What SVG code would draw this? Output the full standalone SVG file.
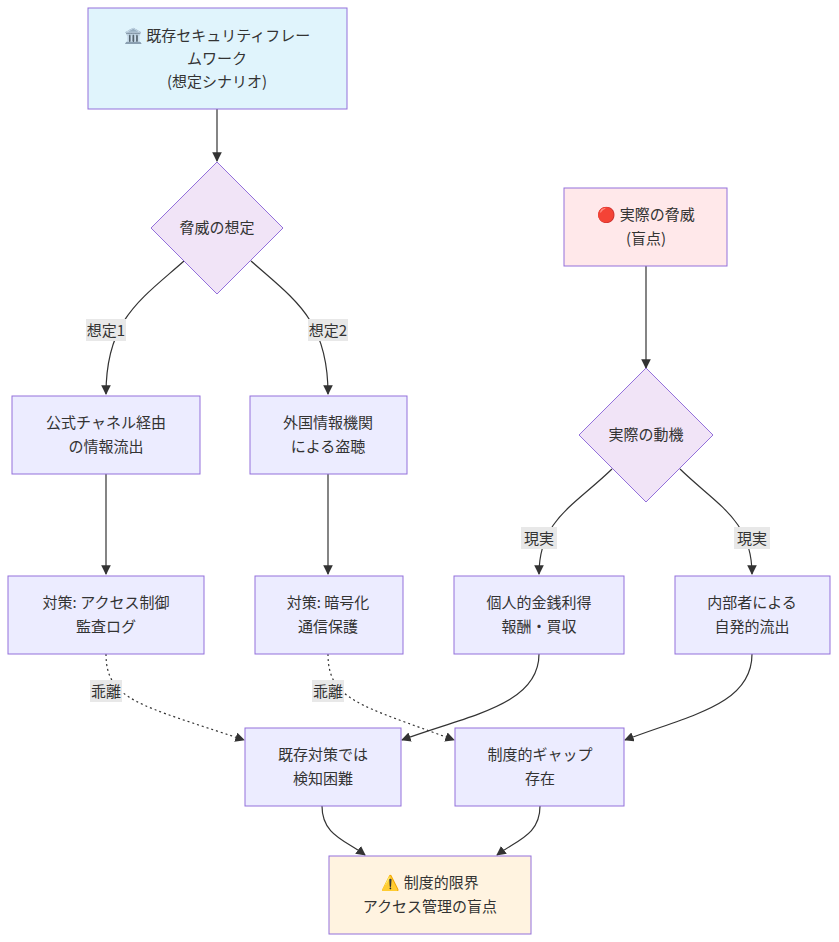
<svg xmlns="http://www.w3.org/2000/svg" width="839" height="942" viewBox="0 0 839 942">
<defs>
<style>
text{font-family:"Noto Sans CJK JP","Liberation Sans",sans-serif;font-size:15px;fill:#333;text-anchor:middle}
.n{fill:#ececff;stroke:#9370db;stroke-width:1}
.d{fill:#f1e4f7;stroke:#9370db;stroke-width:1}
.e{fill:none;stroke:#333;stroke-width:1.2}
.dot{stroke-dasharray:2 3}
.lb{fill:#e8e8e8}
</style>
<marker id="ah" viewBox="0 0 10 10" refX="9" refY="5" markerWidth="8" markerHeight="8" orient="auto"><path d="M0,0L10,5L0,10z" fill="#333"/></marker>
</defs>
<g id="connectors">
<path class="e" marker-end="url(#ah)" d="M217,109V161"/>
<path class="e" marker-end="url(#ah)" d="M184,261C140,300 106,320 106,394"/>
<path class="e" marker-end="url(#ah)" d="M251,261C295,300 328,320 328,394"/>
<path class="e" marker-end="url(#ah)" d="M106,474V574"/>
<path class="e" marker-end="url(#ah)" d="M328,474V574"/>
<path class="e" marker-end="url(#ah)" d="M646,266V368"/>
<path class="e" marker-end="url(#ah)" d="M612,469C575,505 539,520 539,574"/>
<path class="e" marker-end="url(#ah)" d="M680,469C717,505 752,520 752,574"/>
<path class="e dot" marker-end="url(#ah)" d="M106,654C106,700 140,705 244,740"/>
<path class="e dot" marker-end="url(#ah)" d="M328,654C328,700 360,705 454,740"/>
<path class="e" marker-end="url(#ah)" d="M539,654C539,705 470,715 402,740"/>
<path class="e" marker-end="url(#ah)" d="M752,654C752,705 690,715 625,740"/>
<path class="e" marker-end="url(#ah)" d="M322,806C322,835 345,840 365,855"/>
<path class="e" marker-end="url(#ah)" d="M540,806C540,835 517,840 497,855"/>
<rect class="lb" x="86" y="319" width="40" height="22"/><text x="106" y="336">想定1</text>
<rect class="lb" x="308" y="319" width="40" height="22"/><text x="328" y="336">想定2</text>
<rect class="lb" x="521" y="527" width="36" height="22"/><text x="539" y="544">現実</text>
<rect class="lb" x="734" y="527" width="36" height="22"/><text x="752" y="544">現実</text>
<rect class="lb" x="90" y="680" width="32" height="22"/><text x="106" y="697">乖離</text>
<rect class="lb" x="312" y="680" width="32" height="22"/><text x="328" y="697">乖離</text>
</g>
<g id="A"><rect x="88" y="8" width="259" height="101" fill="#e0f4fc" stroke="#9370db"/><text x="217" y="41">🏛️ 既存セキュリティフレー</text><text x="217" y="64">ムワーク</text><text x="217" y="87">(想定シナリオ)</text></g>
<g id="B"><path class="d" d="M217,162L283,228L217,294L151,228z"/><text x="217" y="233">脅威の想定</text></g>
<g id="C"><rect class="n" x="12" y="396" width="188" height="78"/><text x="106" y="428">公式チャネル経由</text><text x="106" y="452">の情報流出</text></g>
<g id="D"><rect class="n" x="250" y="396" width="157" height="78"/><text x="328" y="428">外国情報機関</text><text x="328" y="452">による盗聴</text></g>
<g id="E"><rect class="n" x="8" y="576" width="196" height="78"/><text x="106" y="608">対策: アクセス制御</text><text x="106" y="632">監査ログ</text></g>
<g id="F"><rect class="n" x="255" y="576" width="148" height="78"/><text x="328" y="608">対策: 暗号化</text><text x="328" y="632">通信保護</text></g>
<g id="G"><rect x="564" y="188" width="163" height="78" fill="#ffe8ea" stroke="#9370db"/><text x="646" y="220">🔴 実際の脅威</text><text x="646" y="244">(盲点)</text></g>
<g id="H"><path class="d" d="M646,368L713,435L646,502L579,435z"/><text x="646" y="440">実際の動機</text></g>
<g id="I"><rect class="n" x="454" y="576" width="170" height="78"/><text x="539" y="608">個人的金銭利得</text><text x="539" y="632">報酬・買収</text></g>
<g id="J"><rect class="n" x="675" y="576" width="155" height="78"/><text x="752" y="608">内部者による</text><text x="752" y="632">自発的流出</text></g>
<g id="K"><rect class="n" x="245" y="728" width="156" height="78"/><text x="323" y="760">既存対策では</text><text x="323" y="784">検知困難</text></g>
<g id="L"><rect class="n" x="455" y="728" width="169" height="78"/><text x="540" y="760">制度的ギャップ</text><text x="540" y="784">存在</text></g>
<g id="M"><rect x="329" y="856" width="202" height="78" fill="#fff3e0" stroke="#9370db"/><text x="430" y="888">⚠️ 制度的限界</text><text x="430" y="912">アクセス管理の盲点</text></g>
</svg>
